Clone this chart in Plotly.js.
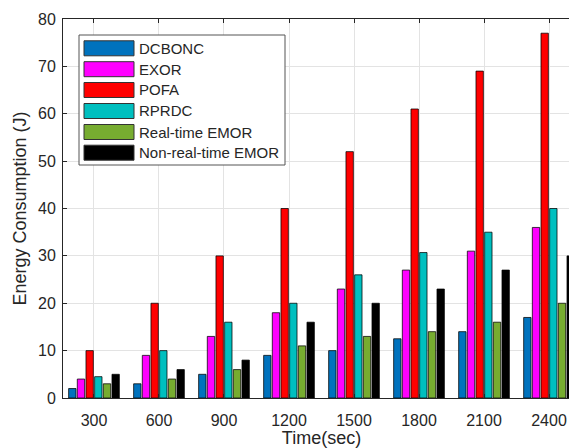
<!DOCTYPE html>
<html>
<head>
<meta charset="utf-8">
<script src="https://cdn.plot.ly/plotly-3.0.1.min.js"></script>
<style>
html,body{margin:0;padding:0;overflow:hidden;background:#fff;}
#chart{width:600px;height:448px;}
</style>
</head>
<body>
<div id="chart"></div>
<script>
const times = [300, 600, 900, 1200, 1500, 1800, 2100, 2400];
const seriesNames = ["DCBONC", "EXOR", "POFA", "RPRDC", "Real-time EMOR", "Non-real-time EMOR"];
const dcbonc = [2, 3, 5, 9, 10, 12.5, 14, 17];
const exor = [4, 9, 13, 18, 23, 27, 31, 36];
const pofa = [10, 20, 30, 40, 52, 61, 69, 77];
const rprdc = [4.5, 10, 16, 20, 26, 30.7, 35, 40];
const realTimeEmor = [3, 4, 6, 11, 13, 14, 16, 20];
const nonRealTimeEmor = [5, 6, 8, 16, 20, 23, 27, 30];
const colors = ["#0072BD", "#FF00FF", "#FF0000", "#00BFBF", "#77AC30", "#000000"];
const yTicks = [0, 10, 20, 30, 40, 50, 60, 70, 80];

const allSeries = [dcbonc, exor, pofa, rprdc, realTimeEmor, nonRealTimeEmor];
const textColor = "#262626";
const font = "Liberation Sans, Arial, Helvetica, sans-serif";

const traces = allSeries.map((vals, i) => ({
  type: "bar",
  x: times,
  y: vals,
  name: seriesNames[i],
  marker: {color: colors[i], line: {color: "rgba(0,0,0,0.75)", width: 1}},
  showlegend: false,
  hoverinfo: "x+y+name"
}));

// manual legend (paper coordinates)
const plotW = 517, plotH = 379, L = 63, T = 19;
const px = x => (x - L) / plotW;
const py = y => (T + plotH - y) / plotH;
const shapes = [{
  type: "rect", xref: "paper", yref: "paper",
  x0: px(79), x1: px(285), y0: py(165), y1: py(35),
  line: {color: "#555", width: 1}, fillcolor: "#fff", layer: "above"
}];
const annotations = [];
const itemY = [48.3, 69.2, 90, 111, 132, 152.7];
seriesNames.forEach((name, i) => {
  shapes.push({
    type: "rect", xref: "paper", yref: "paper",
    x0: px(84), x1: px(134), y0: py(itemY[i] + 7.5), y1: py(itemY[i] - 7.5),
    line: {color: "#333", width: 1}, fillcolor: colors[i], layer: "above"
  });
  annotations.push({
    xref: "paper", yref: "paper", x: px(137), y: py(itemY[i]),
    xanchor: "left", yanchor: "middle", showarrow: false,
    text: name, font: {family: font, size: 15, color: textColor}
  });
});

const layout = {
  width: 600, height: 448,
  margin: {l: 63, r: 20, t: 19, b: 50},
  paper_bgcolor: "#fff", plot_bgcolor: "#fff",
  barmode: "group", bargap: 0.2, bargroupgap: 0.15,
  font: {family: font, color: textColor, size: 16},
  xaxis: {
    range: [157, 2543],
    tickvals: times, ticktext: times.map(String),
    ticks: "inside", ticklen: 4, tickcolor: textColor,
    ticklabelstandoff: 8,
    showline: true, linecolor: textColor, linewidth: 1, mirror: "allticks",
    showgrid: true, gridcolor: "#e3e3e3", gridwidth: 1, zeroline: false,
    tickfont: {size: 16, color: textColor},
    title: {text: "Time(sec)", font: {size: 18, color: textColor}, standoff: 4}
  },
  yaxis: {
    range: [0, 80],
    tickvals: yTicks,
    ticks: "inside", ticklen: 4, tickcolor: textColor,
    ticklabelstandoff: 3,
    showline: true, linecolor: textColor, linewidth: 1, mirror: "allticks",
    showgrid: true, gridcolor: "#e3e3e3", gridwidth: 1, zeroline: false,
    tickfont: {size: 16, color: textColor},
    title: {text: "Energy Consumption (J)", font: {size: 18, color: textColor}, standoff: 6}
  },
  shapes: shapes,
  annotations: annotations
};

Plotly.newPlot("chart", traces, layout, {displayModeBar: false, staticPlot: true});
</script>
</body>
</html>
